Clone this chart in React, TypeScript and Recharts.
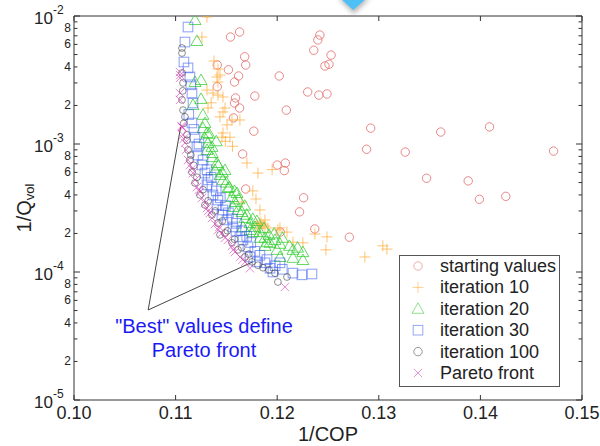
import React from "react";
import { ScatterChart, Scatter, XAxis, YAxis, ReferenceLine } from "recharts";

type P = { x: number; y: number };

const startingValues: P[] = [
  { x: 0.1154, y: 6.85e-3 }, { x: 0.1163, y: 7.5e-3 }, { x: 0.1242, y: 7.1e-3 }, { x: 0.124, y: 6.5e-3 },
  { x: 0.1236, y: 5.4e-3 }, { x: 0.1253, y: 4.95e-3 }, { x: 0.1251, y: 4.2e-3 }, { x: 0.1247, y: 4.07e-3 },
  { x: 0.1168, y: 4.8e-3 }, { x: 0.1169, y: 4.14e-3 }, { x: 0.1141, y: 4.14e-3 }, { x: 0.1152, y: 3.8e-3 },
  { x: 0.1162, y: 3.4e-3 }, { x: 0.1158, y: 3.05e-3 }, { x: 0.1202, y: 3.4e-3 }, { x: 0.1141, y: 2.8e-3 },
  { x: 0.123, y: 2.55e-3 }, { x: 0.1241, y: 2.41e-3 }, { x: 0.1249, y: 2.46e-3 }, { x: 0.1178, y: 2.37e-3 },
  { x: 0.1159, y: 2.29e-3 }, { x: 0.1158, y: 2.09e-3 }, { x: 0.1163, y: 1.91e-3 }, { x: 0.1209, y: 1.84e-3 },
  { x: 0.1157, y: 1.6e-3 }, { x: 0.1177, y: 1.26e-3 }, { x: 0.1292, y: 1.33e-3 }, { x: 0.1288, y: 9.1e-4 },
  { x: 0.1326, y: 8.65e-4 }, { x: 0.1361, y: 1.24e-3 }, { x: 0.1409, y: 1.36e-3 }, { x: 0.1472, y: 8.8e-4 },
  { x: 0.1347, y: 5.4e-4 }, { x: 0.1388, y: 5.15e-4 }, { x: 0.1399, y: 3.7e-4 }, { x: 0.1425, y: 3.9e-4 },
  { x: 0.1166, y: 8.35e-4 }, { x: 0.12, y: 6.85e-4 }, { x: 0.1208, y: 7.1e-4 }, { x: 0.1207, y: 6.2e-4 },
  { x: 0.1169, y: 4.45e-4 }, { x: 0.1226, y: 3.8e-4 }, { x: 0.1222, y: 2.95e-4 }, { x: 0.1237, y: 2.17e-4 },
  { x: 0.1203, y: 2.05e-4 }, { x: 0.1271, y: 1.87e-4 },
];

const iteration10: P[] = [
  { x: 0.11309, y: 9.82e-3 }, { x: 0.11259, y: 6.85e-3 }, { x: 0.11378, y: 4.45e-3 }, { x: 0.11417, y: 3.85e-3 },
  { x: 0.11437, y: 3.46e-3 }, { x: 0.11407, y: 3.34e-3 }, { x: 0.11417, y: 3.05e-3 }, { x: 0.11309, y: 2.64e-3 },
  { x: 0.11368, y: 2.5e-3 }, { x: 0.11417, y: 2.41e-3 }, { x: 0.11466, y: 2.33e-3 }, { x: 0.11319, y: 1.91e-3 },
  { x: 0.11486, y: 1.91e-3 }, { x: 0.11466, y: 1.78e-3 }, { x: 0.11437, y: 1.63e-3 }, { x: 0.11555, y: 1.54e-3 },
  { x: 0.11633, y: 1.54e-3 }, { x: 0.11506, y: 1.41e-3 }, { x: 0.11466, y: 1.22e-3 }, { x: 0.11535, y: 1.13e-3 },
  { x: 0.11456, y: 1.13e-3 }, { x: 0.11702, y: 7.1e-4 }, { x: 0.11811, y: 5.93e-4 }, { x: 0.11791, y: 3.72e-4 },
  { x: 0.11653, y: 3.52e-4 }, { x: 0.1183, y: 3.05e-4 }, { x: 0.1183, y: 2.46e-4 }, { x: 0.1186, y: 2.33e-4 },
  { x: 0.11801, y: 2.33e-4 }, { x: 0.11879, y: 2.55e-4 }, { x: 0.11909, y: 2.21e-4 }, { x: 0.12007, y: 2.13e-4 },
  { x: 0.12027, y: 2.21e-4 }, { x: 0.12096, y: 2.05e-4 }, { x: 0.12155, y: 1.71e-4 }, { x: 0.12253, y: 1.69e-4 },
  { x: 0.12371, y: 1.98e-4 }, { x: 0.1249, y: 1.88e-4 }, { x: 0.1248, y: 1.49e-4 }, { x: 0.12863, y: 1.31e-4 },
  { x: 0.1304, y: 1.6e-4 }, { x: 0.1308, y: 1.51e-4 }, { x: 0.1135, y: 2.1e-3 }, { x: 0.1149, y: 1.05e-3 },
  { x: 0.1156, y: 9.6e-4 }, { x: 0.1184, y: 2.4e-4 }, { x: 0.1188, y: 2.28e-4 }, { x: 0.1182, y: 2.2e-4 },
  { x: 0.1176, y: 4.3e-4 }, { x: 0.1195, y: 6.3e-4 },
];

const iteration20: P[] = [
  { x: 0.11191, y: 9.3e-3 }, { x: 0.1121, y: 6.38e-3 }, { x: 0.1125, y: 3.16e-3 }, { x: 0.11191, y: 3.05e-3 },
  { x: 0.1125, y: 2.25e-3 }, { x: 0.11171, y: 2.02e-3 }, { x: 0.11269, y: 1.69e-3 }, { x: 0.11289, y: 1.46e-3 },
  { x: 0.11269, y: 1.33e-3 }, { x: 0.11309, y: 1.22e-3 }, { x: 0.11289, y: 1.11e-3 }, { x: 0.11319, y: 1.02e-3 },
  { x: 0.11358, y: 9.5e-4 }, { x: 0.11309, y: 8.98e-4 }, { x: 0.11358, y: 7.9e-4 }, { x: 0.11407, y: 7.1e-4 },
  { x: 0.11387, y: 6.26e-4 }, { x: 0.11486, y: 6.26e-4 }, { x: 0.11437, y: 5.73e-4 }, { x: 0.11466, y: 5.24e-4 },
  { x: 0.11515, y: 4.53e-4 }, { x: 0.11604, y: 4.14e-4 }, { x: 0.11555, y: 3.85e-4 }, { x: 0.11584, y: 3.52e-4 },
  { x: 0.11565, y: 3.22e-4 }, { x: 0.11614, y: 3.05e-4 }, { x: 0.11653, y: 2.94e-4 }, { x: 0.11683, y: 2.64e-4 },
  { x: 0.11663, y: 2.25e-4 }, { x: 0.11732, y: 2.41e-4 }, { x: 0.11732, y: 2.13e-4 }, { x: 0.11781, y: 2.25e-4 },
  { x: 0.11761, y: 2.05e-4 }, { x: 0.1183, y: 2.05e-4 }, { x: 0.1183, y: 1.85e-4 }, { x: 0.11879, y: 1.85e-4 },
  { x: 0.11899, y: 1.71e-4 }, { x: 0.11929, y: 1.69e-4 }, { x: 0.11978, y: 1.78e-4 }, { x: 0.12027, y: 1.66e-4 },
  { x: 0.11998, y: 1.49e-4 }, { x: 0.12027, y: 1.31e-4 }, { x: 0.12155, y: 1.49e-4 }, { x: 0.12155, y: 1.29e-4 },
  { x: 0.12253, y: 1.43e-4 }, { x: 0.12253, y: 1.24e-4 }, { x: 0.1136, y: 8.5e-4 }, { x: 0.1142, y: 6.8e-4 },
  { x: 0.1146, y: 6.0e-4 }, { x: 0.115, y: 5.0e-4 }, { x: 0.1153, y: 4.6e-4 }, { x: 0.1158, y: 4.3e-4 },
  { x: 0.1162, y: 3.7e-4 }, { x: 0.1168, y: 3.3e-4 }, { x: 0.117, y: 2.8e-4 }, { x: 0.1176, y: 2.6e-4 },
  { x: 0.118, y: 2.5e-4 }, { x: 0.1187, y: 2.2e-4 }, { x: 0.1192, y: 1.95e-4 }, { x: 0.1197, y: 2.0e-4 },
  { x: 0.1205, y: 1.85e-4 }, { x: 0.1212, y: 1.6e-4 }, { x: 0.122, y: 1.55e-4 }, { x: 0.1188, y: 1.6e-4 },
  { x: 0.114, y: 1.05e-3 }, { x: 0.1133, y: 1.2e-3 },
];

const iteration30: P[] = [
  { x: 0.11122, y: 8.2e-3 }, { x: 0.11092, y: 6.26e-3 }, { x: 0.11082, y: 4.37e-3 }, { x: 0.11122, y: 3.93e-3 },
  { x: 0.11141, y: 3.34e-3 }, { x: 0.11161, y: 2.5e-3 }, { x: 0.11171, y: 2.09e-3 }, { x: 0.11161, y: 1.46e-3 },
  { x: 0.11191, y: 1.13e-3 }, { x: 0.1121, y: 9.5e-4 }, { x: 0.1122, y: 8.2e-4 }, { x: 0.1126, y: 6.86e-4 },
  { x: 0.11289, y: 5.93e-4 }, { x: 0.11319, y: 5.24e-4 }, { x: 0.11309, y: 4.79e-4 }, { x: 0.11358, y: 4.61e-4 },
  { x: 0.11368, y: 4.0e-4 }, { x: 0.11417, y: 3.65e-4 }, { x: 0.11407, y: 3.34e-4 }, { x: 0.11466, y: 3.05e-4 },
  { x: 0.11456, y: 2.79e-4 }, { x: 0.11506, y: 2.55e-4 }, { x: 0.11565, y: 2.25e-4 }, { x: 0.11594, y: 2.09e-4 },
  { x: 0.11633, y: 1.88e-4 }, { x: 0.11663, y: 1.78e-4 }, { x: 0.11712, y: 1.57e-4 }, { x: 0.11732, y: 1.31e-4 },
  { x: 0.11801, y: 1.2e-4 }, { x: 0.11879, y: 1.18e-4 }, { x: 0.11929, y: 1.07e-4 }, { x: 0.11958, y: 1.0e-4 },
  { x: 0.12027, y: 1.18e-4 }, { x: 0.12155, y: 9.8e-5 }, { x: 0.12243, y: 9.5e-5 }, { x: 0.12342, y: 9.65e-5 },
  { x: 0.1118, y: 1.3e-3 }, { x: 0.1123, y: 1.0e-3 }, { x: 0.1127, y: 7.5e-4 }, { x: 0.1131, y: 6.3e-4 },
  { x: 0.1135, y: 5.5e-4 }, { x: 0.114, y: 4.3e-4 }, { x: 0.1144, y: 3.8e-4 }, { x: 0.1149, y: 3.3e-4 },
  { x: 0.1152, y: 2.9e-4 }, { x: 0.1156, y: 2.6e-4 }, { x: 0.116, y: 2.4e-4 }, { x: 0.1165, y: 2.1e-4 },
  { x: 0.117, y: 1.9e-4 }, { x: 0.1174, y: 1.7e-4 }, { x: 0.1178, y: 1.45e-4 }, { x: 0.1183, y: 1.35e-4 },
  { x: 0.119, y: 1.25e-4 }, { x: 0.1198, y: 1.12e-4 }, { x: 0.1205, y: 1.05e-4 }, { x: 0.1113, y: 1.7e-3 },
  { x: 0.1115, y: 2.9e-3 },
];

const iteration100: P[] = [
  { x: 0.11063, y: 5.62e-3 }, { x: 0.11063, y: 5.14e-3 }, { x: 0.11063, y: 3.59e-3 }, { x: 0.11073, y: 3.0e-3 },
  { x: 0.11063, y: 2.21e-3 }, { x: 0.11073, y: 1.84e-3 }, { x: 0.11092, y: 1.63e-3 }, { x: 0.11112, y: 1.18e-3 },
  { x: 0.11112, y: 1.07e-3 }, { x: 0.11122, y: 8.98e-4 }, { x: 0.11141, y: 7.5e-4 }, { x: 0.11161, y: 6.04e-4 },
  { x: 0.11191, y: 4.96e-4 }, { x: 0.1124, y: 4.0e-4 }, { x: 0.11289, y: 3.34e-4 }, { x: 0.11358, y: 2.79e-4 },
  { x: 0.11417, y: 2.41e-4 }, { x: 0.11486, y: 2.02e-4 }, { x: 0.11437, y: 1.95e-4 }, { x: 0.11555, y: 1.69e-4 },
  { x: 0.11614, y: 1.49e-4 }, { x: 0.11683, y: 1.31e-4 }, { x: 0.11752, y: 1.2e-4 }, { x: 0.11811, y: 1.13e-4 },
  { x: 0.11978, y: 9.8e-5 }, { x: 0.12096, y: 9.14e-5 }, { x: 0.12007, y: 8.35e-5 }, { x: 0.1107, y: 2.6e-3 },
  { x: 0.1108, y: 1.45e-3 }, { x: 0.1115, y: 8.2e-4 }, { x: 0.1118, y: 6.8e-4 }, { x: 0.1121, y: 5.5e-4 },
  { x: 0.1127, y: 4.4e-4 }, { x: 0.1132, y: 3.6e-4 }, { x: 0.1139, y: 3.0e-4 }, { x: 0.1146, y: 2.5e-4 },
  { x: 0.1151, y: 2.1e-4 }, { x: 0.1158, y: 1.8e-4 }, { x: 0.1165, y: 1.55e-4 }, { x: 0.1172, y: 1.38e-4 },
  { x: 0.1186, y: 1.08e-4 }, { x: 0.1192, y: 1.04e-4 },
];

const paretoFront: P[] = [
  { x: 0.11043, y: 3.65e-3 }, { x: 0.11043, y: 3.28e-3 }, { x: 0.11043, y: 2.5e-3 }, { x: 0.11043, y: 2.21e-3 },
  { x: 0.11063, y: 1.36e-3 }, { x: 0.11068, y: 1.34e-3 }, { x: 0.11058, y: 1.38e-3 }, { x: 0.11073, y: 1.18e-3 },
  { x: 0.11092, y: 1.02e-3 }, { x: 0.11102, y: 8.98e-4 }, { x: 0.11122, y: 7.5e-4 }, { x: 0.11141, y: 6.86e-4 },
  { x: 0.11171, y: 5.93e-4 }, { x: 0.11191, y: 5.24e-4 }, { x: 0.1121, y: 4.61e-4 }, { x: 0.1124, y: 4.22e-4 },
  { x: 0.1126, y: 3.79e-4 }, { x: 0.11289, y: 3.46e-4 }, { x: 0.11309, y: 3.16e-4 }, { x: 0.11338, y: 2.89e-4 },
  { x: 0.11358, y: 2.64e-4 }, { x: 0.11387, y: 2.37e-4 }, { x: 0.11417, y: 2.13e-4 }, { x: 0.11456, y: 2.02e-4 },
  { x: 0.11486, y: 1.85e-4 }, { x: 0.11515, y: 1.78e-4 }, { x: 0.11555, y: 1.6e-4 }, { x: 0.11584, y: 1.43e-4 },
  { x: 0.11633, y: 1.31e-4 }, { x: 0.11683, y: 1.2e-4 }, { x: 0.11732, y: 1.07e-4 }, { x: 0.12076, y: 7.64e-5 },
  { x: 0.11045, y: 3.45e-3 }, { x: 0.1108, y: 1.1e-3 }, { x: 0.1116, y: 6.4e-4 }, { x: 0.1123, y: 4.4e-4 },
  { x: 0.1132, y: 3.0e-4 }, { x: 0.1143, y: 2.25e-4 }, { x: 0.1157, y: 1.5e-4 }, { x: 0.1166, y: 1.25e-4 },
];

const annotationPoints: P[] = [
  { x: 0.1105, y: 1.36e-3 },
  { x: 0.1073, y: 5.05e-5 },
  { x: 0.1176, y: 1.2e-4 },
];

const xTicks = [0.1, 0.11, 0.12, 0.13, 0.14, 0.15];
const yTicks = [
  1e-5, 2e-5, 3e-5, 4e-5, 5e-5, 6e-5, 7e-5, 8e-5, 9e-5,
  1e-4, 2e-4, 3e-4, 4e-4, 5e-4, 6e-4, 7e-4, 8e-4, 9e-4,
  1e-3, 2e-3, 3e-3, 4e-3, 5e-3, 6e-3, 7e-3, 8e-3, 9e-3,
  1e-2,
];
const legendLabels = ["starting values", "iteration 10", "iteration 20", "iteration 30", "iteration 100", "Pareto front"];

const FONT = "'Liberation Sans', Arial, Helvetica, sans-serif";
const TXT = "#222";
const AX = "#333";
const PL = 74, PR = 582, PT = 16, PB = 400;

const C = {
  start: "#e46a6a",
  it10: "#ffaa33",
  it20: "#33cc33",
  it30: "#3b5ef0",
  it100: "#444444",
  pareto: "#d63cb8",
};

const mk = (kind: string, color: string, op: number) => (props: any) => {
  const { cx, cy } = props;
  if (cx == null || cy == null) return <g />;
  const common = { fill: "none", stroke: color, strokeOpacity: op, strokeWidth: 1 };
  switch (kind) {
    case "circle":
      return <circle cx={cx} cy={cy} r={4.2} {...common} />;
    case "smallcircle":
      return <circle cx={cx} cy={cy} r={3.4} {...common} />;
    case "plus":
      return <path d={`M${cx - 5.5},${cy}H${cx + 5.5}M${cx},${cy - 5.5}V${cy + 5.5}`} {...common} />;
    case "triangle":
      return <polygon points={`${cx},${cy - 6} ${cx - 6},${cy + 4.5} ${cx + 6},${cy + 4.5}`} {...common} />;
    case "square":
      return <rect x={cx - 4.8} y={cy - 4.8} width={9.6} height={9.6} {...common} />;
    default:
      return <path d={`M${cx - 4.2},${cy - 4.2}L${cx + 4.2},${cy + 4.2}M${cx - 4.2},${cy + 4.2}L${cx + 4.2},${cy - 4.2}`} {...common} />;
  }
};

const series = [
  { data: startingValues, kind: "circle", color: C.start, op: 0.8 },
  { data: iteration10, kind: "plus", color: C.it10, op: 0.7 },
  { data: iteration20, kind: "triangle", color: C.it20, op: 0.75 },
  { data: iteration30, kind: "square", color: C.it30, op: 0.6 },
  { data: iteration100, kind: "smallcircle", color: C.it100, op: 0.6 },
  { data: paretoFront, kind: "x", color: C.pareto, op: 0.6 },
];

const XTick = (props: any) => {
  const { x, payload } = props;
  return (
    <g>
      <line x1={x} x2={x} y1={PB} y2={PB - 5} stroke={AX} />
      <line x1={x} x2={x} y1={PT} y2={PT + 5} stroke={AX} />
      <text x={x} y={419} textAnchor="middle" fontSize={18} fill={TXT} fontFamily={FONT}>
        {Number(payload.value).toFixed(2)}
      </text>
    </g>
  );
};

const YTick = (props: any) => {
  const { y, payload } = props;
  const v = Number(payload.value);
  const e = Math.floor(Math.log10(v) + 1e-9);
  const m = Math.round(v / Math.pow(10, e));
  const major = m === 1;
  const len = major ? 6 : 3.5;
  return (
    <g>
      <line x1={PL} x2={PL + len} y1={y} y2={y} stroke={AX} />
      <line x1={PR - len} x2={PR} y1={y} y2={y} stroke={AX} />
      {major ? (
        <g fontFamily={FONT} fill={TXT}>
          <text x={53} y={y + 8} textAnchor="end" fontSize={17}>10</text>
          <text x={53} y={y - 2} textAnchor="start" fontSize={12}>{String(e)}</text>
        </g>
      ) : m % 2 === 0 ? (
        <text x={71} y={y + 4} textAnchor="end" fontSize={12} fill={TXT} fontFamily={FONT}>{m}</text>
      ) : null}
    </g>
  );
};

const LegendIcon = ({ kind, color, cx, cy }: any) => mk(kind, color, 0.55)({ cx, cy });

export default function App() {
  return (
    <div style={{ position: "absolute", left: 0, top: 0, width: 600, height: 446, background: "#fff", fontFamily: FONT }}>
      <ScatterChart width={600} height={446} margin={{ top: PT, right: 600 - PR, bottom: 446 - PB - 30, left: PL - 60 }}>
        <XAxis
          type="number"
          dataKey="x"
          domain={[0.1, 0.15]}
          ticks={xTicks}
          allowDataOverflow
          height={30}
          tickLine={false}
          axisLine={{ stroke: AX }}
          tick={<XTick />}
          interval={0}
        />
        <YAxis
          type="number"
          dataKey="y"
          scale="log"
          domain={[1e-5, 1e-2]}
          ticks={yTicks}
          allowDataOverflow
          width={60}
          tickLine={false}
          axisLine={{ stroke: AX }}
          tick={<YTick />}
          interval={0}
        />
        <ReferenceLine y={1e-2} stroke={AX} ifOverflow="visible" />
        <ReferenceLine x={0.15} stroke={AX} ifOverflow="visible" />
        <ReferenceLine segment={[annotationPoints[0], annotationPoints[1]]} stroke="#444" ifOverflow="visible" />
        <ReferenceLine segment={[annotationPoints[1], annotationPoints[2]]} stroke="#444" ifOverflow="visible" />
        {series.map((s, i) => (
          <Scatter key={i} data={s.data} isAnimationActive={false} shape={mk(s.kind, s.color, s.op)} />
        ))}
      </ScatterChart>
      <svg width={600} height={446} style={{ position: "absolute", left: 0, top: 0, pointerEvents: "none" }} fontFamily={FONT}>
        <defs>
          <filter id="blur" x="-50%" y="-50%" width="200%" height="200%">
            <feGaussianBlur stdDeviation="2.5" />
          </filter>
        </defs>
        <polygon points="338,-2 370,-2 354,14" fill="#999" filter="url(#blur)" opacity={0.7} />
        <polygon points="340,-2 367,-2 353,10" fill="#4fc0f5" />
        <text transform="translate(31,208) rotate(-90)" textAnchor="middle" fontSize={20} fill={TXT}>
          1/Q<tspan fontSize={13} dy={3}>vol</tspan>
        </text>
        <text x={328} y={441} textAnchor="middle" fontSize={20} fill={TXT}>1/COP</text>
        <text x={204} y={333} textAnchor="middle" fontSize={20} fill="#1a1af5">"Best" values define</text>
        <text x={204} y={357} textAnchor="middle" fontSize={20} fill="#1a1af5">Pareto front</text>
        <rect x={399.5} y={255.5} width={160} height={131} fill="#fff" stroke="#555" />
        {legendLabels.map((lab, i) => {
          const cy = 266 + i * 21.4;
          return (
            <g key={lab}>
              <LegendIcon kind={series[i].kind === "smallcircle" ? "circle" : series[i].kind} color={series[i].color} cx={418} cy={cy} />
              <text x={440} y={cy + 6} fontSize={18} fill={TXT}>{lab}</text>
            </g>
          );
        })}
      </svg>
    </div>
  );
}
